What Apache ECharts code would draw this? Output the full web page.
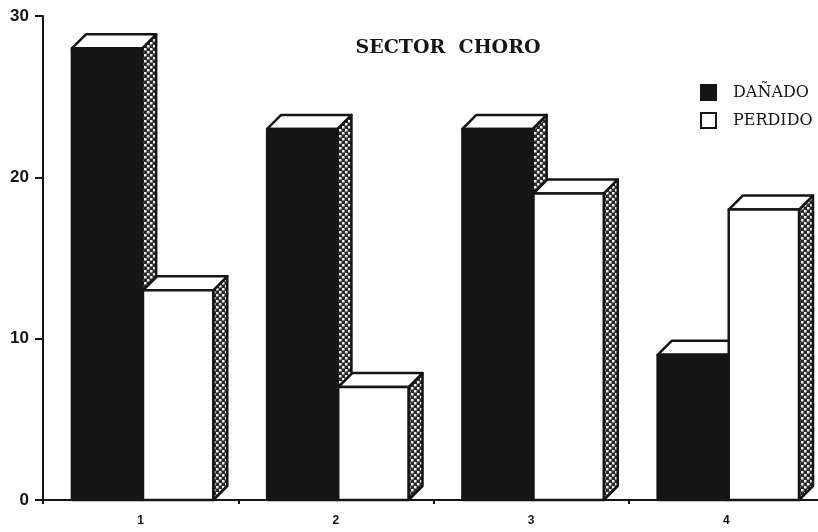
<!DOCTYPE html>
<html><head><meta charset="utf-8">
<script src="https://cdn.jsdelivr.net/npm/echarts@6/dist/echarts.min.js"></script>
<style>html,body{margin:0;padding:0;background:#fff;overflow:hidden}#c{width:824px;height:532px}</style></head>
<body><div id="c"></div>
<script>
var categories = ['1', '2', '3', '4'];
var danado = [28, 23, 23, 9];
var perdido = [13, 7, 19, 18];
var ink = '#151515';

var cv = document.createElement('canvas');
cv.width = 6; cv.height = 6;
var g = cv.getContext('2d');
g.fillStyle = '#2a2a2a'; g.fillRect(0, 0, 6, 6);
g.fillStyle = '#f0f0f0';
g.fillRect(0, 0, 2.5, 2.5); g.fillRect(3, 3, 2.5, 2.5);
var sidePattern = { image: cv, repeat: 'repeat' };

function bar3d(fill, startFrac) {
  return function (params, api) {
    var band = api.size([1, 0])[0];
    var top = api.coord([api.value(0), api.value(1)]);
    var base = api.coord([api.value(0), 0]);
    var w = band * 0.36, d = 14;
    var x = top[0] + startFrac * band, y = top[1], b = base[1];
    var line = { stroke: ink, lineWidth: 2.5, lineJoin: 'round' };
    return { type: 'group', children: [
      { type: 'polygon', shape: { points: [[x + w, y], [x + w + d, y - d], [x + w + d, b - d], [x + w, b]] },
        style: Object.assign({ fill: sidePattern }, line) },
      { type: 'polygon', shape: { points: [[x, y], [x + d, y - d], [x + w + d, y - d], [x + w, y]] },
        style: Object.assign({ fill: '#fff' }, line) },
      { type: 'rect', shape: { x: x, y: y, width: w, height: b - y },
        style: Object.assign({ fill: fill }, line) }
    ] };
  };
}

function rows(values) { return values.map(function (v, i) { return [i, v]; }); }

echarts.init(document.getElementById('c'), null, { renderer: 'canvas' }).setOption({
  animation: false,
  backgroundColor: '#fff',
  title: { text: 'SECTOR  CHORO', left: 443, top: 34, textAlign: 'center',
    textStyle: { fontFamily: 'DejaVu Serif', fontWeight: 'bold', fontSize: 19, color: ink } },
  legend: { orient: 'vertical', left: 695, top: 79, itemWidth: 15, itemHeight: 15, itemGap: 11,
    icon: 'rect', selectedMode: false,
    textStyle: { fontFamily: 'DejaVu Serif', fontSize: 16, color: ink, padding: [0, 0, 0, 12] },
    data: [
      { name: 'DAÑADO', itemStyle: { color: ink, borderColor: ink, borderWidth: 2 } },
      { name: 'PERDIDO', itemStyle: { color: '#fff', borderColor: ink, borderWidth: 2 } }
    ] },
  grid: { left: 43, right: 0, top: 16, bottom: 32 },
  xAxis: { type: 'category', data: categories,
    axisLine: { lineStyle: { color: ink, width: 2 } },
    axisTick: { show: true, length: 4, lineStyle: { color: ink, width: 2 } },
    axisLabel: { color: ink, fontFamily: 'Liberation Sans', fontWeight: 'bold', fontSize: 12, margin: 15 } },
  yAxis: { type: 'value', min: 0, max: 30, interval: 10,
    axisLine: { show: true, lineStyle: { color: ink, width: 2 } },
    axisTick: { show: true, length: 8, lineStyle: { color: ink, width: 2 } },
    splitLine: { show: false },
    axisLabel: { color: ink, fontFamily: 'Liberation Sans', fontWeight: 'bold', fontSize: 17, margin: 14 } },
  series: [
    { name: 'DAÑADO', type: 'custom', data: rows(danado), renderItem: bar3d(ink, -0.352),
      encode: { x: 0, y: 1 }, itemStyle: { color: ink } },
    { name: 'PERDIDO', type: 'custom', data: rows(perdido), renderItem: bar3d('#fff', 0.012),
      encode: { x: 0, y: 1 }, itemStyle: { color: '#fff' } }
  ]
});
</script></body></html>
